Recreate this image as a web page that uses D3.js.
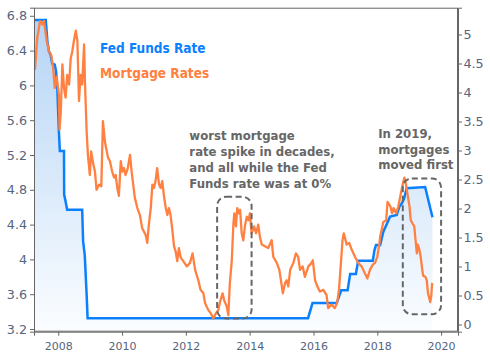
<!DOCTYPE html>
<html>
<head>
<meta charset="utf-8">
<script src="https://cdn.jsdelivr.net/npm/d3@7"></script>
<style>
  html, body { margin: 0; padding: 0; background: #fff; }
  svg { display: block; }
  .tick text { font-family: "DejaVu Sans", Verdana, sans-serif; fill: #56647e; }
  .note { font-family: "DejaVu Sans Condensed", "DejaVu Sans", sans-serif; font-stretch: condensed; font-weight: bold; }
</style>
</head>
<body>
<svg id="chart" width="490" height="352"></svg>
<script>
// ---------------------------------------------------------
// Fed Funds Rate vs Mortgage Rates, 2007–2019
// left axis: mortgage rate (%), right axis: fed funds (%)
// ---------------------------------------------------------

// Fed funds rate (decimal year, %)
const fedYears = [2007.24, 2007.61, 2007.62, 2007.66, 2007.71, 2007.76, 2007.81, 2007.89, 2007.93, 2007.97,
  2008.02, 2008.05, 2008.18, 2008.185, 2008.23, 2008.28, 2008.75, 2008.78, 2008.83, 2008.86, 2008.89, 2008.92,
  2015.83, 2015.97, 2016.73, 2016.87, 2017.07, 2017.15, 2017.33, 2017.40, 2017.86, 2017.91, 2017.96,
  2018.09, 2018.19, 2018.40, 2018.61, 2018.69, 2018.77, 2018.84, 2018.92, 2019.50, 2019.73];
const fedRates = [5.25, 5.25, 5.17, 4.88, 4.71, 4.65, 4.50, 4.48, 4.37, 4.08,
  3.33, 2.99, 2.99, 2.24, 2.12, 1.98, 1.98, 1.43, 1.20, 0.86, 0.51, 0.11,
  0.11, 0.37, 0.37, 0.59, 0.59, 0.87, 0.87, 1.10, 1.10, 1.28, 1.37,
  1.37, 1.60, 1.86, 1.89, 2.03, 2.09, 2.17, 2.35, 2.37, 1.85];

// 30yr mortgage rate (decimal year, %)
const mortYears = [2007.27, 2007.34, 2007.43, 2007.50, 2007.55, 2007.64, 2007.71, 2007.78, 2007.84, 2007.89,
  2007.95, 2008.02, 2008.04, 2008.08, 2008.13, 2008.18, 2008.23, 2008.28, 2008.34, 2008.39,
  2008.44, 2008.49, 2008.55, 2008.60, 2008.65, 2008.70, 2008.75, 2008.81, 2008.84, 2008.89,
  2008.93, 2008.99, 2009.03, 2009.10, 2009.15, 2009.20, 2009.28, 2009.35, 2009.40, 2009.46,
  2009.50, 2009.56, 2009.62, 2009.69, 2009.75, 2009.80, 2009.85, 2009.90, 2009.96, 2010.01,
  2010.06, 2010.11, 2010.18, 2010.25, 2010.30, 2010.35, 2010.40, 2010.48, 2010.56, 2010.63,
  2010.74, 2010.79, 2010.84, 2010.90, 2010.95, 2011.00, 2011.05, 2011.10, 2011.16, 2011.21,
  2011.26, 2011.31, 2011.37, 2011.42, 2011.47, 2011.52, 2011.57, 2011.63, 2011.68, 2011.73,
  2011.78, 2011.84, 2011.92, 2012.03, 2012.13, 2012.21, 2012.29, 2012.39, 2012.46, 2012.55,
  2012.60, 2012.70, 2012.78, 2012.86, 2012.94, 2013.02, 2013.07, 2013.15, 2013.20, 2013.28,
  2013.33, 2013.38, 2013.44, 2013.49, 2013.52, 2013.57, 2013.61, 2013.66, 2013.70, 2013.75,
  2013.80, 2013.85, 2013.91, 2013.96, 2014.01, 2014.06, 2014.14, 2014.20, 2014.27, 2014.32,
  2014.38, 2014.48, 2014.58, 2014.69, 2014.74, 2014.85, 2014.93, 2014.98, 2015.04, 2015.11,
  2015.16, 2015.21, 2015.27, 2015.37, 2015.45, 2015.52, 2015.58, 2015.66, 2015.73, 2015.84,
  2015.94, 2015.98, 2016.05, 2016.12, 2016.20, 2016.31, 2016.41, 2016.46, 2016.57, 2016.67,
  2016.74, 2016.80, 2016.86, 2016.91, 2016.95, 2017.04, 2017.12, 2017.20, 2017.30, 2017.40,
  2017.51, 2017.61, 2017.69, 2017.77, 2017.86, 2017.93, 2018.00, 2018.07, 2018.09, 2018.19,
  2018.28, 2018.32, 2018.41, 2018.46, 2018.51, 2018.59, 2018.66, 2018.74, 2018.80, 2018.85,
  2018.91, 2018.96, 2019.01, 2019.05, 2019.11, 2019.16, 2019.20, 2019.24, 2019.27, 2019.32,
  2019.36, 2019.41, 2019.44, 2019.51, 2019.55, 2019.59, 2019.66, 2019.69, 2019.72];
const mortRates = [6.18, 6.54, 6.74, 6.70, 6.74, 6.51, 6.39, 6.35, 6.20, 5.97,
  6.10, 5.89, 5.49, 5.70, 6.24, 5.97, 5.86, 6.12, 6.01, 6.31,
  6.39, 6.51, 6.63, 6.51, 5.82, 6.12, 6.01, 6.47, 6.01, 5.47,
  5.20, 4.97, 5.24, 5.09, 5.01, 4.80, 4.86, 4.84, 5.59, 5.36,
  5.28, 5.17, 5.13, 5.01, 4.94, 4.97, 4.82, 4.73, 5.13, 5.01,
  5.05, 4.97, 5.05, 5.20, 5.01, 4.86, 4.71, 4.59, 4.51, 4.36,
  4.28, 4.19, 4.40, 4.59, 4.86, 4.82, 4.90, 5.05, 4.86, 4.82,
  4.90, 4.74, 4.59, 4.51, 4.59, 4.51, 4.36, 4.15, 4.09, 3.98,
  4.13, 4.02, 3.98, 3.92, 3.96, 4.07, 3.88, 3.76, 3.65, 3.61,
  3.50, 3.42, 3.38, 3.32, 3.38, 3.42, 3.51, 3.61, 3.53, 3.46,
  3.36, 3.73, 3.99, 4.41, 4.53, 4.38, 4.59, 4.53, 4.57, 4.30,
  4.22, 4.38, 4.49, 4.45, 4.53, 4.30, 4.38, 4.30, 4.40, 4.26,
  4.17, 4.15, 4.13, 4.22, 4.03, 3.96, 3.88, 3.76, 3.61, 3.73,
  3.76, 3.69, 3.88, 3.96, 4.07, 4.03, 3.88, 3.92, 3.80, 3.92,
  3.96, 3.99, 3.76, 3.69, 3.63, 3.65, 3.59, 3.44, 3.48, 3.44,
  3.50, 3.65, 3.96, 4.22, 4.30, 4.17, 4.19, 4.11, 4.03, 3.96,
  3.92, 3.84, 3.78, 3.88, 3.94, 3.96, 4.03, 4.19, 4.26, 4.43,
  4.45, 4.66, 4.61, 4.53, 4.59, 4.53, 4.61, 4.76, 4.87, 4.94,
  4.84, 4.72, 4.61, 4.45, 4.41, 4.38, 4.22, 4.07, 4.17, 4.11,
  4.03, 3.88, 3.81, 3.80, 3.76, 3.61, 3.51, 3.57, 3.73];

// axis ticks
const xTicks = [2008, 2010, 2012, 2014, 2016, 2018, 2020];
const leftTicks = [3.2, 3.6, 4, 4.4, 4.8, 5.2, 5.6, 6, 6.4, 6.8];
const rightTicks = [0, 0.5, 1, 1.5, 2, 2.5, 3, 3.5, 4, 4.5, 5];

// legend + notes
const legendLabels = ["Fed Funds Rate", "Mortgage Rates"];
const note1Lines = ["worst mortgage", "rate spike in decades,", "and all while the Fed", "Funds rate was at 0%"];
const note2Lines = ["In 2019,", "mortgages", "moved first"];
// dashed boxes: [yearFrom, yearTo, mortgageLow, mortgageHigh]
const noteBoxes = [[2012.98, 2014.06, 3.32, 4.72], [2018.80, 2020.00, 3.37, 4.93]];

const FED_COLOR = "#0a80ff";
const MORT_COLOR = "#ff8040";
const AXIS_COLOR = "#666";

const W = 490, H = 352;
const margin = { top: 7.7, right: 32, bottom: 20.3, left: 34 };

const svg = d3.select("#chart");

// -------------------------------------------------------
// SCALES
// -------------------------------------------------------
const x = d3.scaleLinear().domain([2007.24, 2020.53]).range([margin.left, W - margin.right]);
const yM = d3.scaleLinear().domain([3.169, 6.893]).range([H - margin.bottom, margin.top]);
const yF = d3.scaleLinear().domain([-0.124, 5.462]).range([H - margin.bottom, margin.top]);

const fed = fedYears.map((t, i) => ({ t, v: fedRates[i] }));
const mort = mortYears.map((t, i) => ({ t, v: mortRates[i] }));

// gradient under fed funds
const grad = svg.append("defs").append("linearGradient")
  .attr("id", "fedFill")
  .attr("gradientUnits", "userSpaceOnUse")
  .attr("x1", 0).attr("x2", 0)
  .attr("y1", margin.top).attr("y2", H - margin.bottom);
grad.append("stop").attr("offset", "0%").attr("stop-color", "#b3d3f5");
grad.append("stop").attr("offset", "100%").attr("stop-color", "#fbfdff");

svg.append("path")
  .datum(fed)
  .attr("fill", "url(#fedFill)")
  .attr("d", d3.area().x(d => x(d.t)).y0(H - margin.bottom).y1(d => yF(d.v)));

svg.append("path")
  .datum(fed)
  .attr("fill", "none")
  .attr("stroke", FED_COLOR)
  .attr("stroke-width", 2.5)
  .attr("d", d3.line().x(d => x(d.t)).y(d => yF(d.v)));

svg.append("path")
  .datum(mort)
  .attr("fill", "none")
  .attr("stroke", MORT_COLOR)
  .attr("stroke-width", 2.3)
  .attr("stroke-linejoin", "round")
  .attr("d", d3.line().x(d => x(d.t)).y(d => yM(d.v)));

// -------------------------------------------------------
// FRAME + AXES
// -------------------------------------------------------
svg.append("rect")
  .attr("x", margin.left + 0.5).attr("y", margin.top + 0.5)
  .attr("width", W - margin.left - margin.right - 1)
  .attr("height", H - margin.top - margin.bottom - 1)
  .attr("fill", "none").attr("stroke", AXIS_COLOR);

const fmt = d => String(+d.toFixed(1));

const gx = svg.append("g")
  .attr("transform", `translate(0,${H - margin.bottom})`)
  .call(d3.axisBottom(x).tickValues(xTicks).tickFormat(d3.format("d")).tickSize(4).tickPadding(6.5));
gx.selectAll("text").style("font-size", "11px");

const gl = svg.append("g")
  .attr("transform", `translate(${margin.left},0)`)
  .call(d3.axisLeft(yM).tickValues(leftTicks).tickFormat(fmt).tickSize(4).tickPadding(3));
gl.selectAll("text").style("font-size", "12.7px");

const gr = svg.append("g")
  .attr("transform", `translate(${W - margin.right},0)`)
  .call(d3.axisRight(yF).tickValues(rightTicks).tickFormat(fmt).tickSize(4).tickPadding(1.5));
gr.selectAll("text").style("font-size", "12.7px");

svg.selectAll(".domain, .tick line").attr("stroke", AXIS_COLOR);

// -------------------------------------------------------
// LEGEND + ANNOTATIONS
// -------------------------------------------------------
svg.append("text").attr("class", "note")
  .attr("x", x(2009.31)).attr("y", 53)
  .attr("fill", FED_COLOR).style("font-size", "13.5px")
  .text(legendLabels[0]);
svg.append("text").attr("class", "note")
  .attr("x", x(2009.31)).attr("y", 78)
  .attr("fill", MORT_COLOR).style("font-size", "13.5px")
  .text(legendLabels[1]);

svg.append("g").selectAll("text")
  .data(note1Lines).join("text")
  .attr("class", "note")
  .attr("x", x(2012.11)).attr("y", (d, i) => 140 + i * 15.9)
  .attr("fill", "#666").style("font-size", "13px")
  .text(d => d);

svg.append("g").selectAll("text")
  .data(note2Lines).join("text")
  .attr("class", "note")
  .attr("x", x(2018.03)).attr("y", (d, i) => 138.3 + i * 15.5)
  .attr("fill", "#666").style("font-size", "13px")
  .text(d => d);

svg.append("g").selectAll("rect")
  .data(noteBoxes).join("rect")
  .attr("x", d => x(d[0])).attr("y", d => yM(d[3]))
  .attr("width", d => x(d[1]) - x(d[0]))
  .attr("height", d => yM(d[2]) - yM(d[3]))
  .attr("rx", 9).attr("ry", 9)
  .attr("fill", "none")
  .attr("stroke", "#666")
  .attr("stroke-width", 2)
  .attr("stroke-dasharray", "6,3.5");
</script>
</body>
</html>
